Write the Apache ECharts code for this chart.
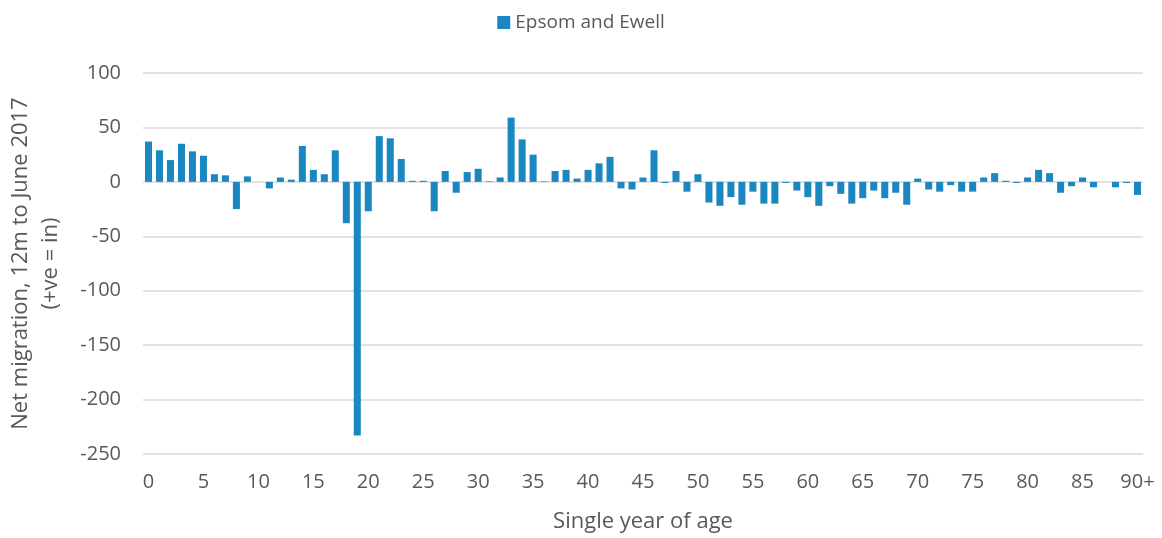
<!DOCTYPE html>
<html>
<head>
<meta charset="utf-8">
<script src="https://cdn.jsdelivr.net/npm/echarts@6/dist/echarts.min.js"></script>
<style>
    html, body { margin: 0; padding: 0; background: #fff; }
    #chart { width: 1162px; height: 538px; }
</style>
</head>
<body>
<div id="chart"></div>
<script>
    // ages 0..89 then 90+
    const ages = []
    for (let i = 0; i < 90; i++) ages.push(String(i))
    ages.push('90+')

    const seriesName = 'Epsom and Ewell'
    const netMigration = [
        37, 29, 20, 35, 28, 24, 7, 6, -25, 5,
        0, -6, 4, 2, 33, 11, 7, 29, -38, -233,
        -27, 42, 40, 21, 1, 1, -27, 10, -10, 9,
        12, 0.5, 4, 59, 39, 25, 0.5, 10, 11, 3,
        11, 17, 23, -6, -7, 4, 29, -1, 10, -9,
        7, -19, -22, -14, -21, -9, -20, -20, -1, -8,
        -14, -22, -4, -11, -20, -15, -8, -15, -10, -21,
        3, -7, -9, -3, -9, -9, 4, 8, 1, -1,
        4, 11, 8, -10, -4, 4, -5, 0, -5, -1,
        -12
    ]

    const textColor = '#595959'
    const gridColor = '#d9d9d9'
    const barColor = '#1a87c0'
    const fontFamily = '"Open Sans", "Noto Sans", sans-serif'

    const chart = echarts.init(document.getElementById('chart'))
    chart.setOption({
        animation: false,
        textStyle: { fontFamily: fontFamily },
        legend: {
            top: 8,
            left: 'center',
            itemWidth: 13,
            itemHeight: 13,
            itemGap: 6,
            icon: 'rect',
            textStyle: { color: textColor, fontSize: 19, fontFamily: fontFamily },
            data: [seriesName]
        },
        grid: {
            left: 143,
            right: 19,
            top: 73,
            bottom: 84,
            outerBoundsMode: 'none'
        },
        xAxis: {
            type: 'category',
            data: ages,
            name: 'Single year of age',
            nameLocation: 'middle',
            nameGap: 57,
            nameTextStyle: { color: textColor, fontSize: 22, fontFamily: fontFamily },
            axisLine: { show: false },
            axisTick: { show: false },
            axisLabel: {
                interval: 4,
                color: textColor,
                fontSize: 20,
                margin: 18,
                fontFamily: fontFamily
            },
            splitLine: { show: false }
        },
        yAxis: {
            type: 'value',
            min: -250,
            max: 100,
            interval: 50,
            name: 'Net migration, 12m to June 2017\n(+ve = in)',
            nameLocation: 'middle',
            nameRotate: 90,
            nameGap: 77,
            nameTextStyle: { color: textColor, fontSize: 22, lineHeight: 30, fontFamily: fontFamily, align: 'center' },
            axisLine: { show: false },
            axisTick: { show: false },
            axisLabel: {
                color: textColor,
                fontSize: 20,
                margin: 22,
                fontFamily: fontFamily
            },
            splitLine: { lineStyle: { color: gridColor, width: 1.5 } }
        },
        series: [{
            name: seriesName,
            type: 'bar',
            data: netMigration,
            barWidth: '64%',
            itemStyle: { color: barColor }
        }]
    })
</script>
</body>
</html>
